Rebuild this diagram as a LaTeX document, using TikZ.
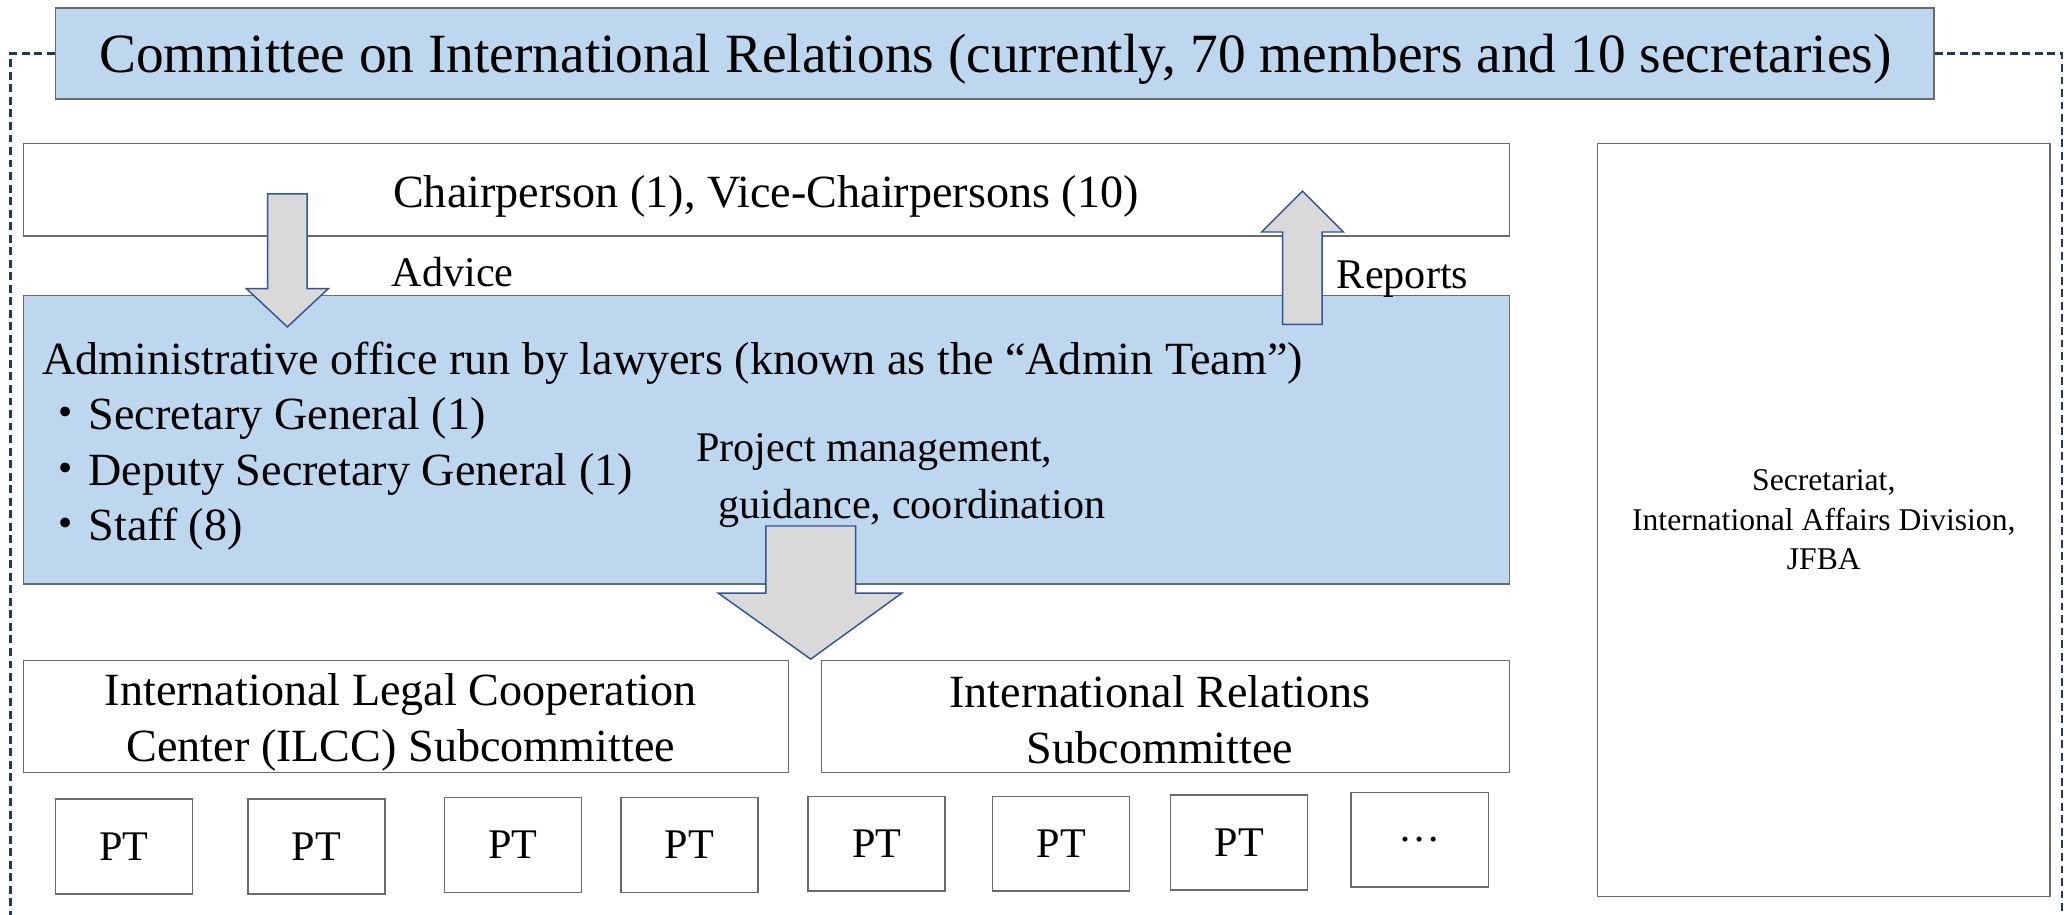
\documentclass[tikz,border=0pt]{standalone}
\usepackage{fontspec}
\setmainfont{Liberation Serif}
\newfontfamily\cjk{Noto Sans CJK JP}
\usepackage{xcolor}
\usepackage{tikz}
\usetikzlibrary{positioning,calc}

\definecolor{boxblue}{HTML}{BDD7EE}
\definecolor{boxline}{HTML}{6A6A6A}
\definecolor{arrowline}{HTML}{2F5597}
\definecolor{arrowfill}{HTML}{D9D9D9}
\definecolor{framenavy}{HTML}{203864}

\newcommand{\fsz}[2]{\fontsize{#1}{#2}\selectfont}

\tikzset{
    whitebox/.style={draw=boxline, line width=1.1pt, fill=white, inner sep=0pt, align=center},
    bluebox/.style={whitebox, fill=boxblue},
    ptbox/.style={whitebox, minimum width=104pt, minimum height=72pt, font=\fsz{32}{38}},
    boxtext/.style={inner sep=0pt, align=center, font=\fsz{35}{42}},
    blockarrow/.style={draw=arrowline, fill=arrowfill, line width=1.1pt, line join=miter},
    framedash/.style={draw=framenavy, line width=1.8pt, dash pattern=on 6pt off 3.5pt},
    label/.style={inner sep=0pt, anchor=base west, font=\fsz{32}{38}},
    listline/.style={inner sep=0pt, anchor=base west, font=\fsz{35}{42}}
}

\begin{document}
\begin{tikzpicture}[x=1pt, y=-1pt]
    \useasboundingbox (0,0) rectangle (1568,694);

    % committee title and dashed frame
    \node[bluebox, minimum width=1425pt, minimum height=69pt] (title) at (754.5,40.5) {};
    \draw[framedash] (title.west) -- (8,40.5) -- (8,694);
    \draw[framedash] (title.east) -- (1564,40.5) -- (1564,694);
    \node[boxtext, font=\fsz{42}{50}] (titletext) at (755,45)
        {Committee on International Relations (currently, 70 members and 10 secretaries)};

    \node[whitebox, minimum width=1127pt, minimum height=70pt] (chair) at (581.5,144) {};
    \node[boxtext] (chairtext) at (581,149) {Chairperson (1), Vice-Chairpersons (10)};

    \node[whitebox, minimum width=343pt, minimum height=571pt, font=\fsz{24}{30}] (secretariat) at (1383.5,394.5)
        {Secretariat,\\International Affairs Division,\\JFBA};

    % admin team
    \node[bluebox, minimum width=1127pt, minimum height=219pt] (admin) at (581.5,333.5) {};
    \node[listline] (adm1) at (32,284) {Administrative office run by lawyers (known as the “Admin Team”)};
    \node[listline] (adm2) at (32,326) {{\cjk ・}Secretary General (1)};
    \node[listline] (adm3) at (32,368) {{\cjk ・}Deputy Secretary General (1)};
    \node[listline] (adm4) at (32,410) {{\cjk ・}Staff (8)};

    \node[label] (project) at (528,350) {Project management,};
    \node[label] (guidance) at (545,393) {guidance, coordination};

    % advice / reports
    \draw[blockarrow] (203,147) -- (233,147) -- (233,219) -- (249,219) -- (218,248)
        -- (187,219) -- (203,219) -- cycle;
    \node[label] (advice) at (297,217) {Advice};
    \draw[blockarrow] (973,246) -- (1003,246) -- (1003,176) -- (1019,176) -- (988,145)
        -- (957,176) -- (973,176) -- cycle;
    \node[label] (reports) at (1014,219) {Reports};

    % subcommittees
    \node[whitebox, minimum width=580pt, minimum height=85pt] (ilcc) at (308,543.5) {};
    \node[boxtext] (ilcctext) at (304,548) {International Legal Cooperation\\Center (ILCC) Subcommittee};
    \node[whitebox, minimum width=522pt, minimum height=85pt] (irs) at (884,543.5) {};
    \node[boxtext] (irstext) at (880,546) {International Relations\\Subcommittee};

    \draw[blockarrow] (581,399) -- (649,399) -- (649,450) -- (684,450) -- (615,500)
        -- (545,450) -- (581,450) -- cycle;

    % project teams
    \foreach \n/\x/\y/\t in {1/94/642/PT, 2/240/642/PT, 3/389/641/PT, 4/523/641/PT,
                             5/665/640/PT, 6/805/640/PT, 7/940/639/PT, 8/1077/637/…}
        \node[ptbox] (pt\n) at (\x,\y) {\t};
\end{tikzpicture}
\end{document}
